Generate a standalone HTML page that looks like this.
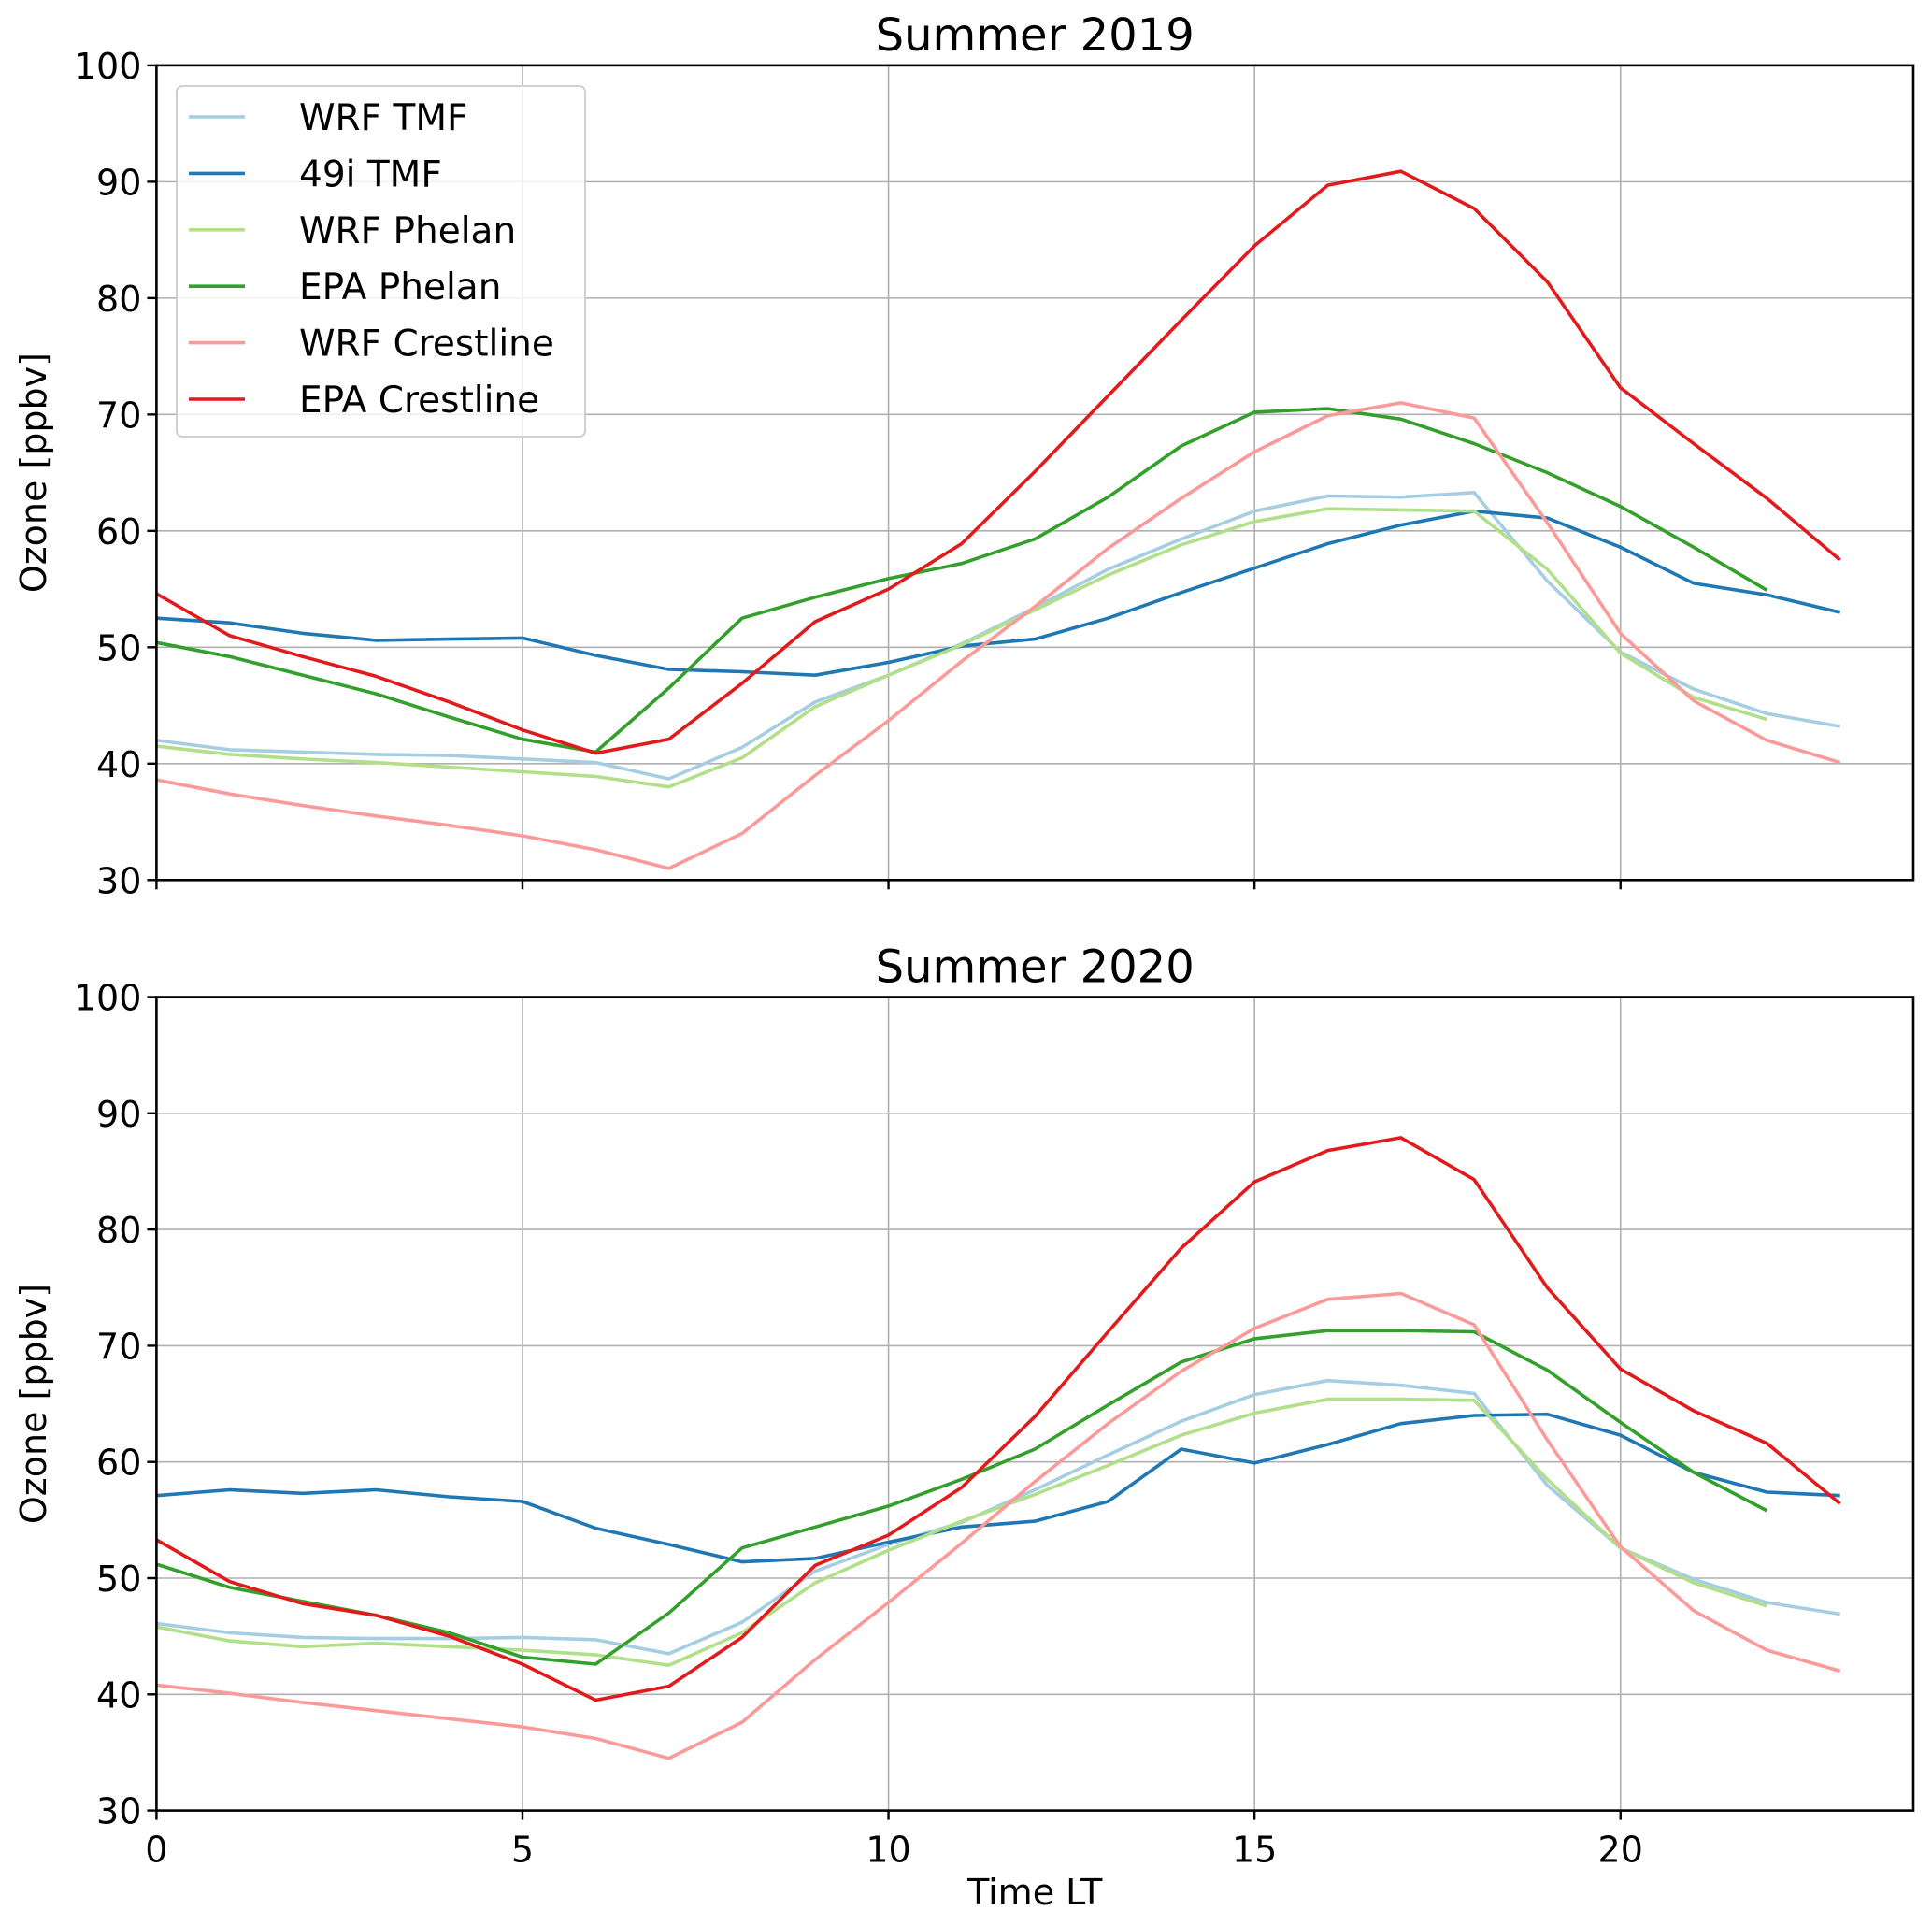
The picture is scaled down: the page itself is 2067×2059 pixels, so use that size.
<!DOCTYPE html>
<html><head><meta charset="utf-8"><style>
html,body{margin:0;padding:0;background:#fff}
svg{display:block;font-family:"DejaVu Sans","Liberation Sans",sans-serif}
</style></head><body>
<svg id="fig" width="2067" height="2059" viewBox="0 0 2067 2059" xmlns="http://www.w3.org/2000/svg"></svg>
<script>
const hours=[0,1,2,3,4,5,6,7,8,9,10,11,12,13,14,15,16,17,18,19,20,21,22,23];
const xTicks=[0,5,10,15,20];
const yTicks=[30,40,50,60,70,80,90,100];
const seriesNames=["WRF TMF","49i TMF","WRF Phelan","EPA Phelan","WRF Crestline","EPA Crestline"];
const seriesColors=["#a6cee3","#1f78b4","#b2df8a","#33a02c","#fb9a99","#e31a1c"];
// Summer 2019
const s19_wrfTmf=[42,41.2,41,40.8,40.7,40.4,40.1,38.7,41.4,45.3,47.6,50.3,53.4,56.7,59.3,61.7,63,62.9,63.3,55.7,49.6,46.4,44.3,43.2];
const s19_49iTmf=[52.5,52.1,51.2,50.6,50.7,50.8,49.3,48.1,47.9,47.6,48.7,50.1,50.7,52.5,54.7,56.8,58.9,60.5,61.7,61.1,58.6,55.5,54.5,53];
const s19_wrfPhelan=[41.5,40.8,40.4,40.1,39.7,39.3,38.9,38,40.5,44.9,47.6,50.2,53.2,56.2,58.8,60.8,61.9,61.8,61.7,56.7,49.5,45.7,43.8];
const s19_epaPhelan=[50.4,49.2,47.6,46,44,42.1,41,46.5,52.5,54.3,55.9,57.2,59.3,62.9,67.3,70.2,70.5,69.6,67.5,65,62.1,58.6,54.9];
const s19_wrfCrest=[38.6,37.4,36.4,35.5,34.7,33.8,32.6,31,34,39,43.7,48.8,53.5,58.5,62.8,66.8,69.9,71,69.7,60.7,51.2,45.4,42,40.1];
const s19_epaCrest=[54.6,51,49.2,47.5,45.3,42.9,40.9,42.1,46.9,52.2,55,58.9,65.1,71.6,78.1,84.5,89.7,90.9,87.7,81.4,72.3,67.5,62.8,57.5];
// Summer 2020
const s20_wrfTmf=[46.1,45.3,44.9,44.8,44.8,44.9,44.7,43.5,46.2,50.6,52.9,54.8,57.6,60.6,63.5,65.8,67,66.6,65.9,58,52.6,49.9,47.9,46.9];
const s20_49iTmf=[57.1,57.6,57.3,57.6,57,56.6,54.3,52.9,51.4,51.7,53.1,54.4,54.9,56.6,61.1,59.9,61.5,63.3,64,64.1,62.3,59.1,57.4,57.1];
const s20_wrfPhelan=[45.8,44.6,44.1,44.4,44.1,43.8,43.4,42.5,45.3,49.6,52.4,54.9,57.2,59.7,62.3,64.2,65.4,65.4,65.3,58.5,52.6,49.6,47.6];
const s20_epaPhelan=[51.2,49.2,48,46.8,45.3,43.2,42.6,47,52.6,54.4,56.2,58.5,61.1,64.9,68.6,70.6,71.3,71.3,71.2,67.9,63.4,59.1,55.8];
const s20_wrfCrest=[40.8,40.1,39.3,38.6,37.9,37.2,36.2,34.5,37.6,43,47.9,53,58.3,63.3,67.8,71.5,74,74.5,71.8,61.9,52.7,47.2,43.8,42];
const s20_epaCrest=[53.3,49.7,47.8,46.8,45,42.6,39.5,40.7,44.9,51.1,53.7,57.8,63.9,71.2,78.4,84.1,86.8,87.9,84.3,75,68,64.4,61.6,56.4];

const NS="http://www.w3.org/2000/svg";
const svg=document.getElementById('fig');
function mk(tag,attrs,parent,text){const e=document.createElementNS(NS,tag);for(const k in attrs)e.setAttribute(k,attrs[k]);if(text!==undefined)e.textContent=text;(parent||svg).appendChild(e);return e;}

const L=167.4,R=2047,XMAX=24;
function xs(v){return L+(R-L)*v/XMAX;}

function panel(top,bottom,title,series,key,showXLabels,showLegend){
  const g=mk('g',{});
  
  
  const ys=v=>bottom-(bottom-top)*(v-30)/70;
  xTicks.forEach(t=>{const l=mk('line',{x1:xs(t),x2:xs(t),y1:top,y2:bottom,stroke:'#b0b0b0','stroke-width':1.6},g);
    });
  yTicks.forEach(t=>{const l=mk('line',{x1:L,x2:R,y1:ys(t),y2:ys(t),stroke:'#b0b0b0','stroke-width':1.6},g);
    });
  series.forEach((vals,i)=>{
    const pts=vals.map((v,j)=>xs(hours[j]).toFixed(1)+','+ys(v).toFixed(1)).join(' ');
    const p=mk('polyline',{points:pts,fill:'none',stroke:seriesColors[i],'stroke-width':3.6,'stroke-linejoin':'round'},g);
    
    
  });
  const f=mk('rect',{x:L,y:top,width:R-L,height:bottom-top,fill:'none',stroke:'#000','stroke-width':2.6},g);
  
  yTicks.forEach(t=>{
    mk('line',{x1:L-10,x2:L,y1:ys(t),y2:ys(t),stroke:'#000','stroke-width':2.4},g);
    const tx=mk('text',{x:L-16,y:ys(t)+14,'text-anchor':'end','font-size':38},g,String(t));
    
  });
  xTicks.forEach(t=>{
    mk('line',{x1:xs(t),x2:xs(t),y1:bottom,y2:bottom+10,stroke:'#000','stroke-width':2.4},g);
    if(showXLabels){const tx=mk('text',{x:xs(t),y:bottom+55,'text-anchor':'middle','font-size':38},g,String(t));
      }
  });
  const tt=mk('text',{x:(L+R)/2,y:top-16,'text-anchor':'middle','font-size':48},g,title);
  
  const cy=(top+bottom)/2;
  const yl=mk('text',{x:0,y:0,transform:`translate(49,${cy}) rotate(-90)`,'text-anchor':'middle','font-size':38},g,'Ozone [ppbv]');
  
  if(showLegend){
    const lg=mk('g',{},g);
    
    mk('rect',{x:189,y:92,width:437,height:375,rx:6,fill:'#fff','fill-opacity':0.8,stroke:'#d0d0d0','stroke-width':2},lg);
    seriesNames.forEach((n,i)=>{
      const y=125+i*60.4;
      const e=mk('g',{},lg);
      
      mk('line',{x1:202,x2:262,y1:y,y2:y,stroke:seriesColors[i],'stroke-width':3.6},e);
      mk('text',{x:320,y:y+14,'font-size':39},e,n);
    });
  }
}
panel(69.9,941.3,'Summer 2019',[s19_wrfTmf,s19_49iTmf,s19_wrfPhelan,s19_epaPhelan,s19_wrfCrest,s19_epaCrest],'summer-2019',false,true);
panel(1066.5,1936.6,'Summer 2020',[s20_wrfTmf,s20_49iTmf,s20_wrfPhelan,s20_epaPhelan,s20_wrfCrest,s20_epaCrest],'summer-2020',true,false);
const xl=mk('text',{x:(L+R)/2,y:2037,'text-anchor':'middle','font-size':38},svg,'Time LT');


</script>
</body></html>
